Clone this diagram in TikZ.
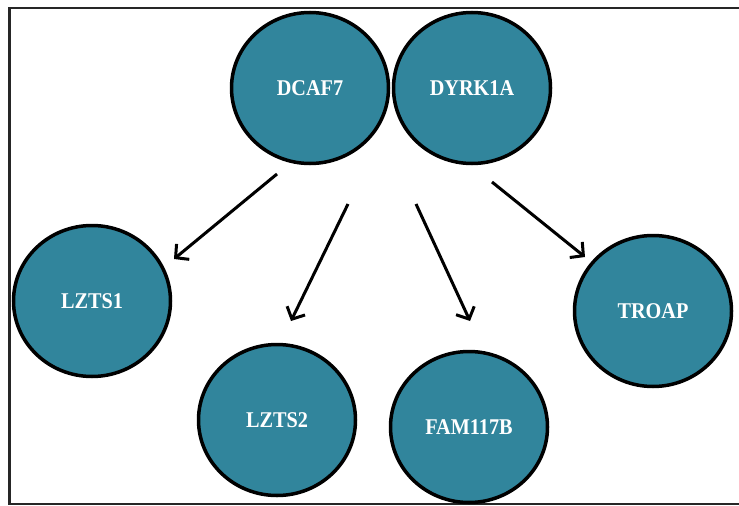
\documentclass[tikz,border=0pt]{standalone}
\usepackage{fontspec}
\setmainfont{Liberation Serif}
\newfontfamily\genefont{Liberation Serif}[FakeStretch=0.9]
\usetikzlibrary{shapes.geometric,arrows.meta}
\definecolor{teal}{HTML}{31859C}
\tikzset{
  gene/.style={ellipse, draw=black, line width=3.5pt, fill=teal, text=white,
    minimum width=157pt, minimum height=151pt, inner sep=0pt,
    font=\genefont\fontsize{22.5}{26}\selectfont\bfseries},
  arr/.style={line width=3pt, -{Straight Barb[length=9.5pt,width=20pt,line width=3pt]}}
}
\begin{document}
\begin{tikzpicture}[x=1pt,y=-1pt]
\useasboundingbox (0,0) rectangle (739,506);
\begin{scope}
\clip (0,0) rectangle (739,506);
\draw[line width=2.2pt, draw=black!85] (760,8) -- (9.5,8) -- (9.5,504) -- (760,504);
\end{scope}
\node[gene] (dcaf7) at (310,88) {DCAF7};
\node[gene] (dyrk1a) at (472,88) {DYRK1A};
\node[gene] (lzts1) at (92,301) {LZTS1};
\node[gene] (lzts2) at (277,420) {LZTS2};
\node[gene] (fam) at (469,427) {FAM117B};
\node[gene] (troap) at (653,311) {TROAP};
\coordinate (s1) at (277,174);
\coordinate (t1) at (174,259);
\coordinate (s2) at (348,204);
\coordinate (t2) at (291,321);
\coordinate (s3) at (416,204);
\coordinate (t3) at (470,321);
\coordinate (s4) at (492,182);
\coordinate (t4) at (585,257);
\draw[arr] (s1) -- (t1);
\draw[arr] (s2) -- (t2);
\draw[arr] (s3) -- (t3);
\draw[arr] (s4) -- (t4);
\end{tikzpicture}
\end{document}
